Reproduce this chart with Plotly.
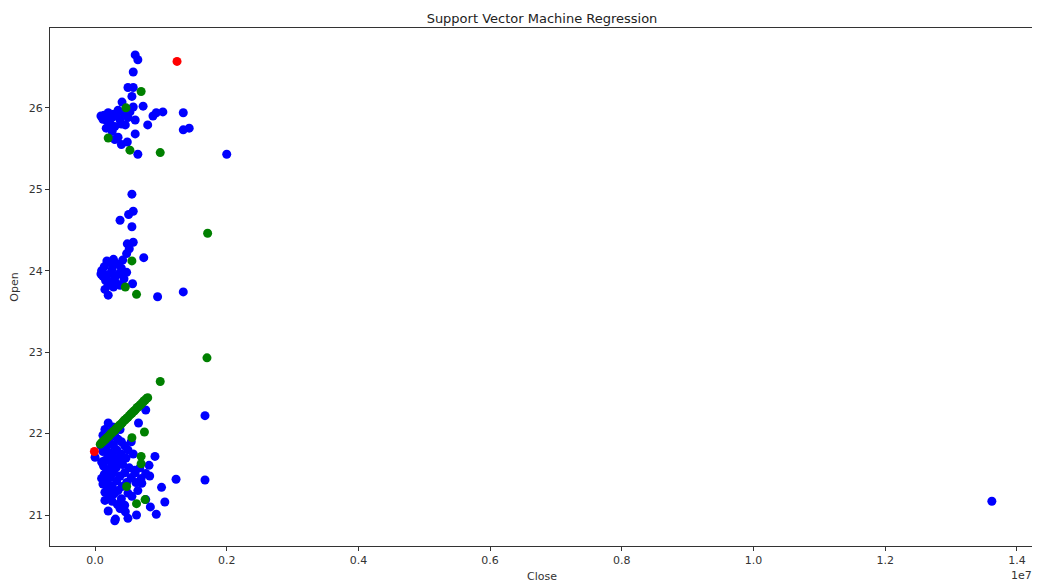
import numpy as np
import plotly.graph_objects as go

# Close values are in millions, Open values as-is
blue_close_m = [
    # top cluster
    0.61, 0.65, 0.58, 0.50, 0.58, 0.41, 0.56, 0.58, 0.73,
    0.14, 0.20, 0.26, 0.32, 0.38, 0.44, 0.50, 0.23, 0.30, 0.17, 0.35, 0.53, 0.46,
    0.61, 0.93, 1.03, 0.88, 1.34, 0.80, 1.34, 1.43, 0.61, 0.35, 0.49, 0.26, 0.17,
    0.30, 0.40, 0.65, 2.00, 0.12, 0.22, 0.28, 0.40, 0.09,
    # middle cluster
    0.56, 0.58, 0.51, 0.38, 0.56, 0.58, 0.49, 0.52, 0.48, 0.74, 0.57, 0.95, 1.34, 0.20,
    0.10, 0.14, 0.18, 0.22, 0.26, 0.30, 0.34, 0.12, 0.16, 0.20, 0.24, 0.28, 0.32, 0.36,
    0.40, 0.44, 0.38, 0.18, 0.28, 0.09, 0.15, 0.24, 0.42, 0.48,
    # bottom cluster
    0.20, 0.15, 0.25, 0.12, 0.30, 0.18, 0.35, 0.22, 0.40, 0.14, 0.28, 0.45, 0.17, 0.33,
    0.50, 0.12, 0.24, 0.40, 0.20, 0.30, 0.47, 0.15, 0.36, 0.25, 0.42, 0.13, 0.32, 0.52,
    0.20, 0.28, 0.45, 0.14, 0.38, 0.23, 0.55, 0.18, 0.33, 0.48, 0.12, 0.26, 0.41, 0.20,
    0.35, 0.15, 0.29, 0.50, 0.22, 0.40, 0.26, 0.34, 0.45, 0.38, 0.46, 0.30, 0.31, 0.50,
    0.63, 0.56, 0.93, 0.84, 1.06, 0.77, 1.01, 0.83, 0.77, 0.82, 0.91, 1.23, 1.67, 1.67,
    0.77, 0.66, 0.00, 0.60, 0.58, 0.62, 0.55, 0.65, 0.70, 0.68, 0.10, 0.10, 0.09, 0.27,
    0.38, 0.61, 0.71, 0.15, 0.20,
    # far outlier
    13.62,
]
blue_open = [
    26.65, 26.59, 26.44, 26.25, 26.25, 26.07, 26.14, 26.01, 26.02,
    25.91, 25.94, 25.88, 25.91, 25.85, 25.93, 25.88, 25.80, 25.77, 25.85, 25.97, 25.95, 25.79,
    25.85, 25.94, 25.95, 25.90, 25.94, 25.79, 25.73, 25.75, 25.68, 25.64, 25.58, 25.71, 25.75,
    25.61, 25.55, 25.43, 25.43, 25.86, 25.84, 25.92, 25.80, 25.90,
    24.94, 24.73, 24.69, 24.62, 24.54, 24.35, 24.33, 24.27, 24.21, 24.16, 23.84, 23.68, 23.74, 23.70,
    24.00, 24.05, 23.95, 24.10, 24.02, 23.92, 24.08, 23.93, 23.88, 23.82, 23.86, 23.80, 23.85, 23.96,
    24.03, 23.90, 23.82, 24.12, 24.14, 23.96, 23.77, 23.97, 24.13, 23.98,
    22.13, 22.05, 22.02, 21.98, 21.97, 21.95, 21.93, 21.90, 21.90, 21.88, 21.86, 21.85, 21.82, 21.80,
    21.80, 21.78, 21.76, 21.75, 21.72, 21.70, 21.70, 21.67, 21.66, 21.63, 21.62, 21.60, 21.58, 21.58,
    21.55, 21.52, 21.52, 21.50, 21.48, 21.46, 21.46, 21.42, 21.42, 21.40, 21.38, 21.36, 21.35, 21.32,
    21.30, 21.28, 21.26, 21.27, 21.22, 21.20, 21.17, 21.13, 21.12, 21.08, 21.04, 20.93, 20.95, 20.96,
    21.00, 21.23, 21.01, 21.10, 21.16, 21.19, 21.34, 21.48, 21.51, 21.61, 21.72, 21.44, 21.43, 22.22,
    22.29, 22.13, 21.71, 21.55, 21.75, 21.40, 21.90, 21.30, 21.45, 21.58, 21.65, 21.45, 21.85, 22.08,
    22.05, 21.52, 21.39, 21.18, 21.05,
    21.17,
]

green_close_m = [
    0.08, 0.10, 0.12, 0.14, 0.16, 0.18, 0.20, 0.22, 0.24, 0.26, 0.28, 0.30, 0.32, 0.34,
    0.36, 0.38, 0.40, 0.42, 0.44, 0.46, 0.48, 0.50, 0.52, 0.54, 0.56, 0.58, 0.60, 0.62,
    0.64, 0.66, 0.68, 0.70, 0.72, 0.74, 0.76, 0.78, 0.80,
    0.99, 1.70, 1.71, 0.75, 0.56, 0.70, 0.70, 0.48, 0.63, 0.76,
    0.56, 0.46, 0.63, 0.70, 0.47, 0.20, 0.53, 0.99,
]
green_open = [
    21.87, 21.89, 21.90, 21.92, 21.93, 21.95, 21.96, 21.98, 22.00, 22.01, 22.03, 22.04, 22.06, 22.08,
    22.09, 22.11, 22.12, 22.14, 22.16, 22.17, 22.19, 22.20, 22.22, 22.24, 22.25, 22.27, 22.28, 22.30,
    22.32, 22.33, 22.35, 22.36, 22.38, 22.40, 22.41, 22.43, 22.44,
    22.64, 22.93, 24.46, 22.02, 21.95, 21.72, 21.63, 21.35, 21.14, 21.19,
    24.12, 23.80, 23.71, 26.20, 26.00, 25.63, 25.48, 25.45,
]

red_close_m = [1.245, -0.01]
red_open = [26.57, 21.78]

x_tick_vals_m = [0, 2, 4, 6, 8, 10, 12, 14]
x_tick_text = ["0.0", "0.2", "0.4", "0.6", "0.8", "1.0", "1.2", "1.4"]
y_tick_vals = [21, 22, 23, 24, 25, 26]

MILLION = 1e6
fig = go.Figure()
for xs, ys, col, name in [
    (blue_close_m, blue_open, "#0000ff", "Actual"),
    (green_close_m, green_open, "#008000", "Predicted"),
    (red_close_m, red_open, "#ff0000", "Other"),
]:
    fig.add_trace(go.Scatter(
        x=np.array(xs) * MILLION, y=ys, mode="markers", name=name,
        marker=dict(color=col, size=9, line=dict(width=0)),
    ))

# The page body has an 8px margin, so the figure is sized/placed to compensate.
W, H = 1032, 576
font = "DejaVu Sans, Arial, sans-serif"
axis_common = dict(
    showgrid=False, zeroline=False, showline=True, linecolor="#333333", linewidth=1,
    mirror=True, ticks="outside", ticklen=4, tickcolor="#333333",
    tickfont=dict(family=font, size=11, color="#333333"),
)
fig.update_layout(
    width=W, height=H,
    margin=dict(l=42, r=6, t=20, b=38, autoexpand=False),
    paper_bgcolor="white", plot_bgcolor="white",
    showlegend=False,
    title=dict(text="Support Vector Machine Regression", x=0.5, xref="paper",
               y=1 - 10 / H, yref="container", yanchor="middle", xanchor="center",
               font=dict(family=font, size=13, color="#222222")),
    xaxis=dict(range=[-0.684e6, 14.26e6],
               tickvals=[v * MILLION for v in x_tick_vals_m], ticktext=x_tick_text,
               title=dict(text="Close", standoff=6, font=dict(family=font, size=11, color="#333333")),
               **axis_common),
    yaxis=dict(range=[20.62, 26.98], tickvals=y_tick_vals,
               title=dict(text="Open", standoff=8, font=dict(family=font, size=11, color="#333333")),
               **axis_common),
)
fig.add_annotation(text="1e7", xref="paper", yref="paper", x=1, y=0,
                   xanchor="right", yanchor="middle", yshift=-29, xshift=0,
                   showarrow=False, font=dict(family=font, size=11, color="#333333"))
fig.write_html("out.html")
